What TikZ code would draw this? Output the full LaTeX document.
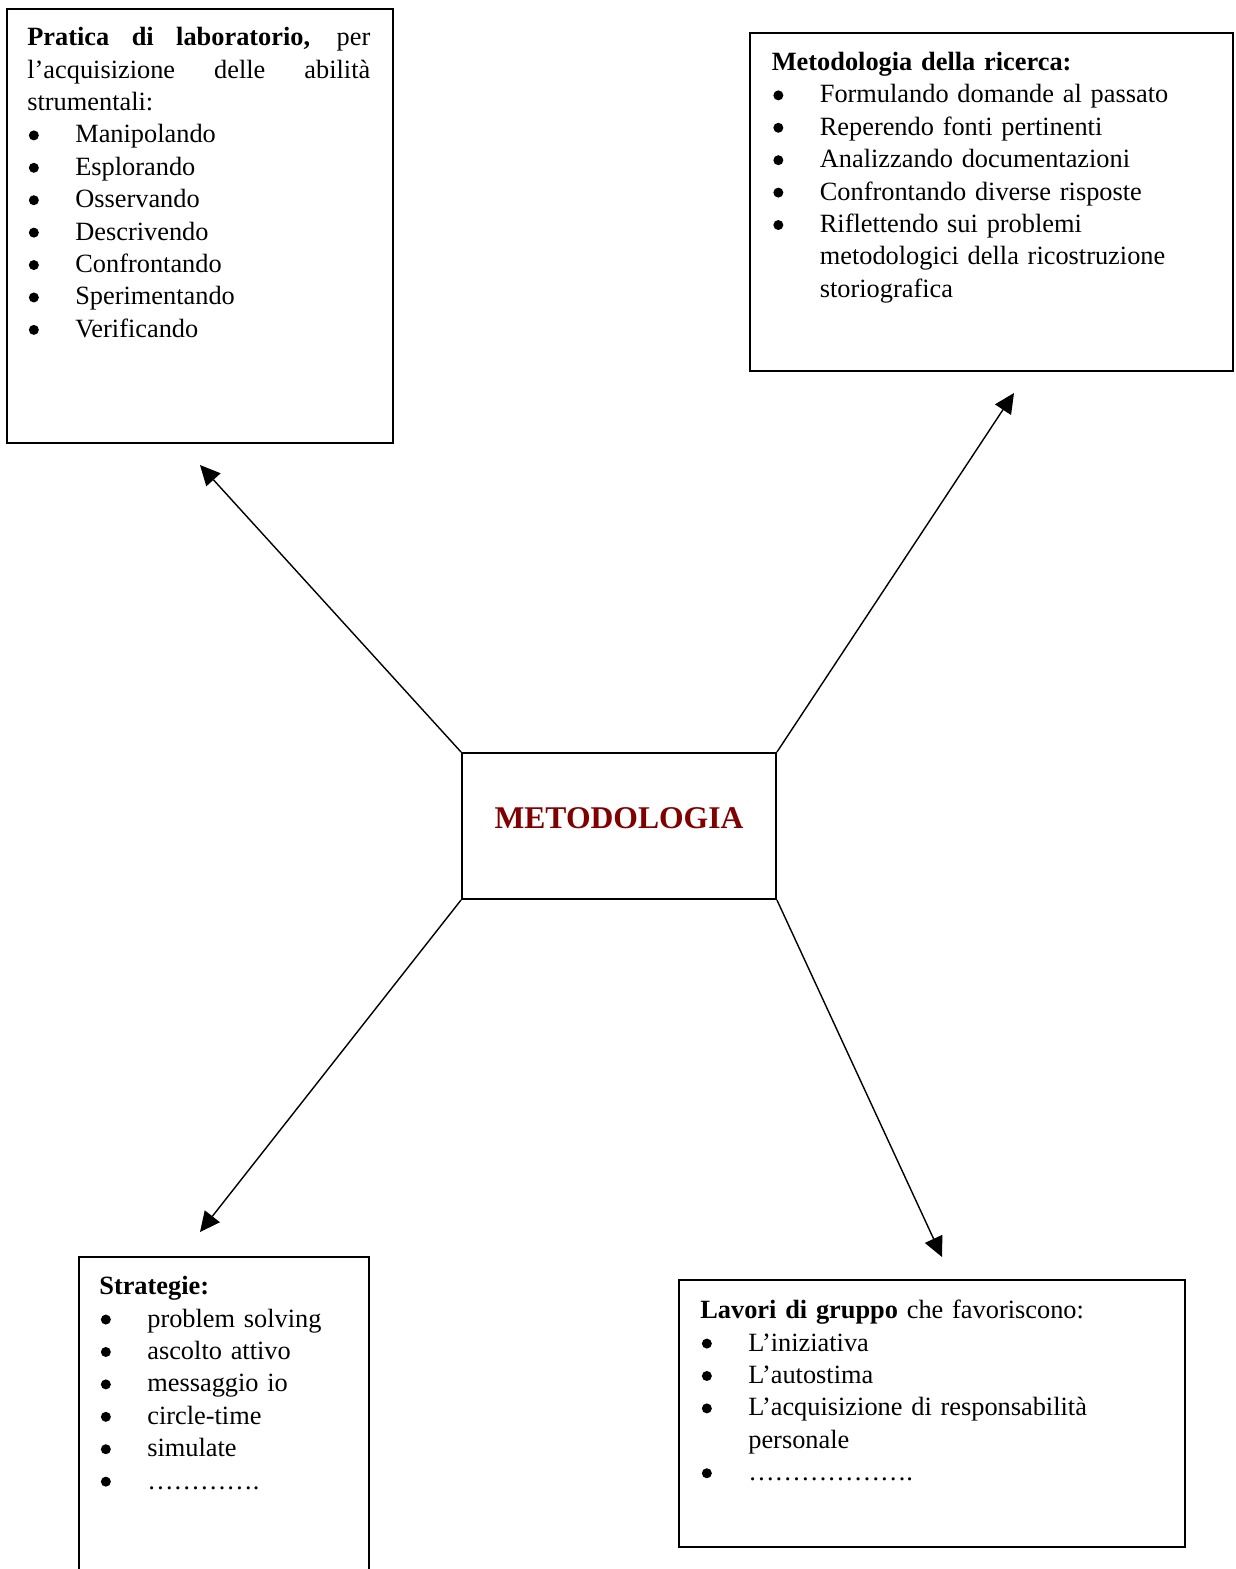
\documentclass[tikz,border=0pt]{standalone}
\usepackage{fontspec}
\setmainfont{Liberation Serif}
\usetikzlibrary{arrows.meta}
\definecolor{metodored}{RGB}{128,0,0}
\newcommand{\pallino}{\tikz[baseline=-0.15cm]\fill[black] (0,0) circle (0.1cm);}
\newcommand{\punto}{\par\noindent\hangindent=0.96cm\hangafter=1\makebox[0.96cm][l]{\hspace{0.03cm}\pallino}}
\begin{document}
\begin{tikzpicture}[x=0.02cm,y=-0.02cm,
        casella/.style={draw=black,rectangle,line width=1.1pt,inner sep=0pt},
        testo/.style={anchor=north west,inner sep=0pt,font=\fontsize{15}{18.45}\selectfont},
        centro/.style={draw=black,rectangle,line width=1.1pt,minimum width=6.28cm,minimum height=2.92cm,text depth=0.32cm,font=\fontsize{18}{22}\selectfont\bfseries,text=metodored},
        freccia/.style={line width=0.8pt,-{Triangle[length=0.4cm,width=0.38cm]}}
      ]
      \clip (0,0) rectangle (1235,1569);
      \node[centro] (meth) at (619,826) {METODOLOGIA};
      \node[casella,minimum width=7.72cm,minimum height=8.68cm] (lab) at (200,226) {};
      \node[casella,minimum width=9.66cm,minimum height=6.76cm] (ric) at (991.5,202) {};
      \node[casella,minimum width=5.8cm,minimum height=6.86cm] (strat) at (224,1428.5) {};
      \node[casella,minimum width=10.12cm,minimum height=5.34cm] (grp) at (932,1413.5) {};
      \node[testo,text width=6.86cm,align=justify] (labtxt) at (27,22.6) {\strut\textbf{Pratica di laboratorio,} per\linebreak l’acquisizione delle abilità\linebreak strumentali:
        \punto Manipolando
        \punto Esplorando
        \punto Osservando
        \punto Descrivendo
        \punto Confrontando
        \punto Sperimentando
        \punto Verificando\par};
      \node[testo,text width=9.2cm,align=left] (rictxt) at (771.5,47.4) {\strut\textbf{Metodologia della ricerca:}
        \punto Formulando domande al passato
        \punto Reperendo fonti pertinenti
        \punto Analizzando documentazioni
        \punto Confrontando diverse risposte
        \punto Riflettendo sui problemi\newline metodologici della ricostruzione\newline storiografica\par};
      \node[testo,text width=5.2cm,align=left] (strattxt) at (99,1271.6) {\strut\textbf{Strategie:}
        \punto problem solving
        \punto ascolto attivo
        \punto messaggio io
        \punto circle-time
        \punto simulate
        \punto ………….\par};
      \node[testo,text width=9.6cm,align=left] (grptxt) at (700,1295.6) {\strut\textbf{Lavori di gruppo} che favoriscono:
        \punto L’iniziativa
        \punto L’autostima
        \punto L’acquisizione di responsabilità\newline personale
        \punto ……………….\par};
      \coordinate (labtip) at (200,465);
      \coordinate (rictip) at (1014,393);
      \coordinate (strattip) at (200,1232);
      \coordinate (grptip) at (942,1257);
      \draw[freccia] (meth.north west) -- (labtip);
      \draw[freccia] (meth.north east) -- (rictip);
      \draw[freccia] (meth.south west) -- (strattip);
      \draw[freccia] (meth.south east) -- (grptip);
    \end{tikzpicture}
\end{document}
